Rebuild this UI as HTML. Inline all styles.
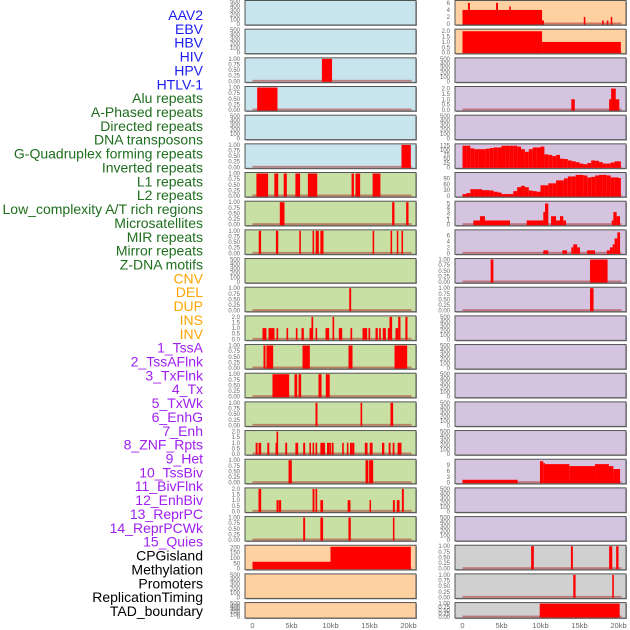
<!DOCTYPE html>
<html><head><meta charset="utf-8">
<style>
html,body{margin:0;padding:0;background:#fff;width:630px;height:630px;overflow:hidden}
svg{display:block;font-family:"Liberation Sans",sans-serif}
</style></head>
<body>
<svg id="chart" width="630" height="630" viewBox="0 0 630 630"></svg>
<script>
// ===== data =====
const featureLabels = ["AAV2","EBV","HBV","HIV","HPV","HTLV-1","Alu repeats","A-Phased repeats","Directed repeats","DNA transposons","G-Quadruplex forming repeats","Inverted repeats","L1 repeats","L2 repeats","Low_complexity A/T rich regions","Microsatellites","MIR repeats","Mirror repeats","Z-DNA motifs","CNV","DEL","DUP","INS","INV","1_TssA","2_TssAFlnk","3_TxFlnk","4_Tx","5_TxWk","6_EnhG","7_Enh","8_ZNF_Rpts","9_Het","10_TssBiv","11_BivFlnk","12_EnhBiv","13_ReprPC","14_ReprPCWk","15_Quies","CPGisland","Methylation","Promoters","ReplicationTiming","TAD_boundary"];
const labelColors = ["#1c1cf0","#1c1cf0","#1c1cf0","#1c1cf0","#1c1cf0","#1c1cf0","#1e6e1e","#1e6e1e","#1e6e1e","#1e6e1e","#1e6e1e","#1e6e1e","#1e6e1e","#1e6e1e","#1e6e1e","#1e6e1e","#1e6e1e","#1e6e1e","#1e6e1e","#ffa500","#ffa500","#ffa500","#ffa500","#ffa500","#a020f0","#a020f0","#a020f0","#a020f0","#a020f0","#a020f0","#a020f0","#a020f0","#a020f0","#a020f0","#a020f0","#a020f0","#a020f0","#a020f0","#a020f0","#000","#000","#000","#000","#000"];
const leftBg = ["#c8e4ec","#c8e4ec","#c8e4ec","#c8e4ec","#c8e4ec","#c8e4ec","#c8e0a4","#c8e0a4","#c8e0a4","#c8e0a4","#c8e0a4","#c8e0a4","#c8e0a4","#c8e0a4","#c8e0a4","#c8e0a4","#c8e0a4","#c8e0a4","#c8e0a4","#ffd0a0","#ffd0a0","#ffd0a0"];
const rightBg = ["#ffd0a0","#ffd0a0","#d4c4e0","#d4c4e0","#d4c4e0","#d4c4e0","#d4c4e0","#d4c4e0","#d4c4e0","#d4c4e0","#d4c4e0","#d4c4e0","#d4c4e0","#d4c4e0","#d4c4e0","#d4c4e0","#d4c4e0","#d4c4e0","#d4c4e0","#d0d0d0","#d0d0d0","#d0d0d0"];
const tickEmpty = ["0","100","200","300","400","500"];
const tickUnit = ["0.00","0.25","0.50","0.75","1.00"];
const tickTwo = ["0.0","0.5","1.0","1.5","2.0"];
const xTickLabels = ["0","5kb","10kb","15kb","20kb"];
const xTickValues = [0,5,10,15,20];
// segments: [startKb, endKb, value]
const leftSegs = [
 [], [],
 [[8.9,10.2,1]],
 [[0.6,3.2,1]],
 [],
 [[19.1,20.3,1]],
 [[0.5,2.0,1],[2.8,3.3,1],[4.0,4.4,1],[5.5,6.1,1],[7.1,8.3,1],[12.7,13.0,1],[13.2,13.8,1],[15.4,16.4,1]],
 [[3.5,4.1,1],[17.9,18.2,1],[19.7,20.0,1]],
 [[0.8,1.1,1],[3.0,3.3,1],[6.0,6.2,1],[7.7,7.9,1],[8.1,8.5,1],[8.7,9.1,1],[15.4,15.6,1],[17.7,17.9,1],[18.5,18.7,1],[19.1,19.3,1]],
 [],
 [[12.4,12.65,1]],
 [[1.28,1.79,1],[2.05,2.82,1],[3.08,3.29,1],[4.36,4.57,1],[5.56,5.77,1],[6.28,6.58,1],[7.31,7.56,1],[7.56,7.78,2],[8.08,8.29,1],[9.36,9.83,1],[10.26,10.47,2],[11.07,11.5,1],[12.56,12.78,1],[14.1,14.7,1],[14.87,15.09,1],[15.77,16.07,1],[16.24,16.45,1],[16.7,17.1,1],[17.35,17.56,1],[17.56,17.9,2],[18.33,18.68,1],[18.68,18.97,2],[19.6,19.87,2]],
 [[1.41,1.67,1],[1.79,2.65,1],[6.41,7.35,1],[12.31,12.82,1],[18.21,19.83,1]],
 [[2.56,4.7,1],[5.38,5.73,1],[5.9,6.24,1],[8.46,8.85,1],[9.4,9.9,1]],
 [[8.08,8.33,1],[13.85,14.06,1],[17.69,18.03,1]],
 [[0.4,0.65,1],[0.77,1.11,1],[1.9,2.15,1],[2.95,3.08,1],[3.08,3.29,2],[4.2,4.44,1],[5.5,5.85,1],[6.5,6.75,1],[7.3,7.5,1],[7.7,7.9,1],[8.08,8.29,1],[8.7,9.3,1],[9.55,9.9,1],[9.9,10.05,1],[10.15,10.4,1],[11.5,11.7,1],[12.1,12.3,1],[12.5,12.86,1],[12.85,13.06,1],[14.4,14.75,1],[15.03,15.4,1],[16.6,16.9,1],[17.46,17.7,1],[17.97,18.2,1],[18.6,19.1,1]],
 [[4.62,5.04,1],[14.49,14.85,1],[14.95,15.47,1]],
 [[0.77,1.11,2],[3.08,3.29,1],[3.33,3.67,1],[7.7,7.95,2],[8.08,8.29,2],[8.7,9.05,1],[12.2,12.56,1],[15.0,15.2,1],[18.0,18.25,1],[18.5,18.85,1],[19.15,19.4,2]],
 [[6.5,6.75,1],[8.7,9.05,1],[12.3,12.6,1],[18.0,18.2,1]],
 [[0,10,65],[10,20.3,205]],
 [], []
];
const leftMax = [500,500,1,1,500,1,1,1,1,500,1,2,1,1,1,2,1,2,1,210,500,500];
const leftTicks = [tickEmpty,tickEmpty,tickUnit,tickUnit,tickEmpty,tickUnit,tickUnit,tickUnit,tickUnit,tickEmpty,tickUnit,tickTwo,tickUnit,tickUnit,tickUnit,tickTwo,tickUnit,tickTwo,tickUnit,["0","50","100","150","200"],tickEmpty,tickEmpty];

const invertedProfile = [125,125,110,105,105,105,108,112,115,115,125,125,125,125,120,105,90,105,115,115,120,75,72,65,72,50,48,40,35,30,22,18,25,40,38,30,22,22,28,35,35];
const l2Profile = [10,15,35,35,35,30,30,28,22,18,10,10,10,25,45,52,45,28,25,22,55,55,65,65,80,80,90,100,100,108,108,105,95,98,105,108,108,105,95,95,92];
function profileSegs(p){ return p.map((v,i)=>[i*0.5, Math.min(i*0.5+0.5,20.3), v]); }
const rightSegs = [
 [[0,10.2,4],[0.7,0.95,6],[4.3,4.55,6],[6.0,6.2,5],[10.2,10.45,1],[15.55,15.75,2],[17.9,18.1,1],[18.5,18.7,1],[19.0,19.2,2]],
 [[0,10.2,2],[10.2,20.3,1]],
 [],
 [[13.95,14.4,1],[18.8,20.1,1],[19.05,19.65,2]],
 [],
 profileSegs(invertedProfile),
 profileSegs(l2Profile),
 [[1.39,2.24,1],[2.24,2.88,2],[2.88,6.09,1],[8.23,10.36,1],[10.36,10.58,3],[10.58,11.0,5],[11.35,12.0,2],[12.0,12.5,1],[12.5,12.92,2],[12.92,13.27,1],[19.13,19.34,1],[19.34,19.76,3],[19.76,20.19,2]],
 [[10.36,11.0,1],[12.8,13.4,1],[13.95,14.2,2],[14.2,14.7,3],[14.7,15.06,2],[15.97,16.99,1],[18.5,18.9,1],[18.9,19.25,2],[19.25,19.5,3],[19.5,19.85,5],[19.85,20.2,7]],
 [[3.61,3.96,1],[16.35,18.6,1]],
 [[16.35,16.8,1]],
 [],[],[],[],[],
 [[0,7.07,1.5],[9.93,10.36,11],[10.36,10.58,10],[10.58,13.7,9.5],[13.7,16.99,8.5],[16.99,18.78,9.5],[18.78,19.34,8.5],[19.34,20.2,7]],
 [],[],
 [[8.8,9.15,1],[13.9,14.15,1],[18.8,19.2,1],[19.7,20.0,1]],
 [[14.2,14.5,1],[19.2,19.4,1]],
 [[9.9,20.15,1]]
];
const rightMax = [6.4,2.1,500,2.1,500,130,115,5.3,7.5,1,1,500,500,500,500,500,11.5,500,500,1,1,1];
const rightTicks = [["0","2","4","6"],tickTwo,tickEmpty,tickTwo,tickEmpty,["0","25","50","75","100","125"],["0","30","60","90"],["0","1","2","3","4","5"],["0","2","4","6"],tickUnit,tickUnit,tickEmpty,tickEmpty,tickEmpty,tickEmpty,tickEmpty,["0","3","6","9"],tickEmpty,tickEmpty,tickUnit,tickUnit,tickUnit];

// ===== drawing =====
const NS = "http://www.w3.org/2000/svg";
const svg = document.getElementById("chart");
function mk(tag, attrs, parent){ const e=document.createElementNS(NS,tag); for(const k in attrs) e.setAttribute(k,attrs[k]); (parent||svg).appendChild(e); return e; }
const PITCH = 28.67, PH = 24.5;
const cols = [{x0:245,x1:416,zero:252.5,tickX:240,segs:leftSegs,max:leftMax,ticks:leftTicks,bg:leftBg,name:'left'},
              {x0:455,x1:626,zero:462.5,tickX:450,segs:rightSegs,max:rightMax,ticks:rightTicks,bg:rightBg,name:'right'}];
const KB = 7.8;

// labels
featureLabels.forEach((t,i)=>{
  const e = mk("text",{x:203,y:15+i*13.86+5,"text-anchor":"end","font-size":"14",fill:labelColors[i]});
  e.textContent = t;
  
  
});

cols.forEach(c=>{
  const xs = kb => c.zero + kb*KB;
  for(let r=0;r<22;r++){
    const top = r*PITCH + 0.5;
    const h = r===21 ? 15.5 : PH;
    const g = mk("g",{});
    
    
    const ys = v => top + h - 1 - (v / c.max[r]) * (h - 2);
    mk("rect",{x:c.x0+1,y:top+1,width:c.x1-c.x0,height:h,fill:"#999"},g);
    mk("rect",{x:c.x0,y:top,width:c.x1-c.x0,height:h,fill:c.bg[r],stroke:"#555","stroke-width":1},g);
    const segs = c.segs[r];
    if(segs.length){
      mk("rect",{x:xs(0),y:top+h-2.5,width:20.4*KB,height:1.8,fill:"#b03030","fill-opacity":0.55},g);
    }
    segs.forEach(s=>{
      const y = Math.max(ys(s[2]), top+0.5);
      const b = mk("rect",{x:xs(s[0]),y:y,width:Math.max((s[1]-s[0])*KB,1.2),height:top+h-0.5-y,fill:"#ff0000"},g);
      
      
    });
    // y ticks
    const tk = c.ticks[r];
    tk.forEach(t=>{
      const v = parseFloat(t);
      const y = ys(v);
      const e = mk("text",{x:c.tickX,y:y+2,"text-anchor":"end","font-size":"6",fill:"#666"},g);
      e.textContent = t;
      
      
    });
  }
  xTickValues.forEach((v,i)=>{
    const e = mk("text",{x:xs(v),y:628,"text-anchor":"middle","font-size":"7.5",fill:"#666"});
    e.textContent = xTickLabels[i];
    
    
  });
});
</script>
</body></html>
